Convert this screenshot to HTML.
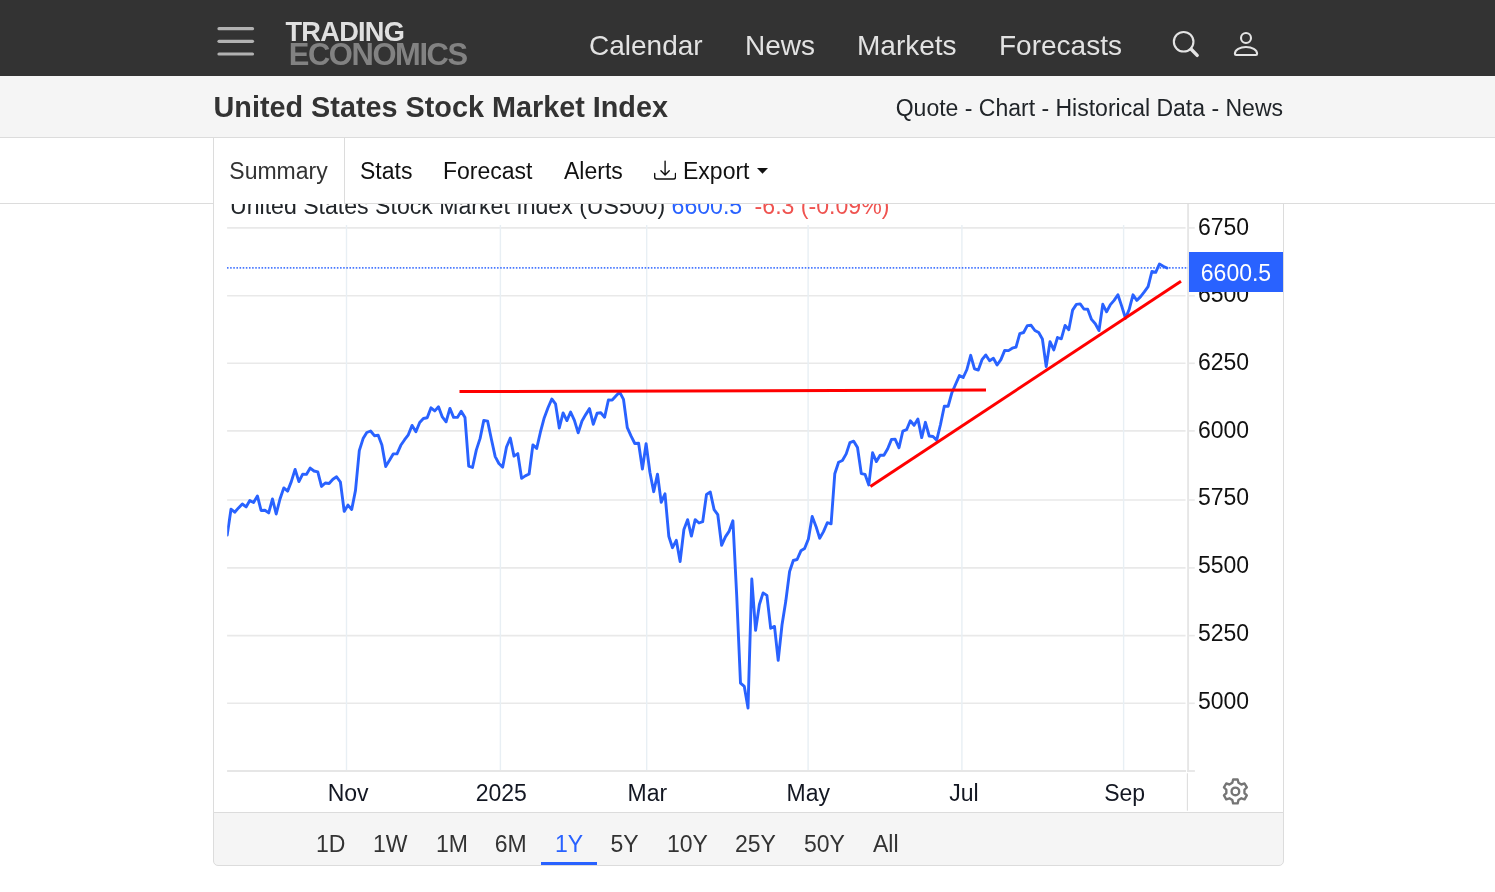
<!DOCTYPE html>
<html lang="en"><head><meta charset="utf-8"><title>United States Stock Market Index</title>
<style>
html,body{margin:0;padding:0}
body{width:1495px;height:892px;overflow:hidden;background:#fff;font-family:"Liberation Sans",Arial,sans-serif;position:relative;color:#212529}
.abs{position:absolute;white-space:nowrap}
#hdr{left:0;top:0;width:1495px;height:76.5px;background:#333}
#hdr .nav{color:#e2e2e2;font-size:28px;line-height:32px;top:30px}
#logo1{left:285.5px;top:17.4px;font-size:27.2px;line-height:30px;font-weight:bold;color:#e0e0e0;letter-spacing:-0.75px}
#logo2{left:288.7px;top:38.3px;font-size:30.9px;line-height:34px;font-weight:bold;color:#828282;letter-spacing:-1.38px}
#titlebar{left:0;top:76px;width:1495px;height:61px;background:#f5f5f5;border-bottom:1px solid #dcdcdc}
#title{left:213.5px;top:90.5px;font-size:28.8px;line-height:32px;font-weight:bold;color:#333}
#links{right:212px;top:94px;font-size:23px;line-height:28px;color:#212529}
#tabs{left:0;top:138px;width:1495px;height:65px;background:#fff;border-bottom:1px solid #dcdcdc}
#tabact{left:213px;top:138px;width:130px;height:66px;background:#fff;border-left:1px solid #dcdcdc;border-right:1px solid #dcdcdc}
.tab{top:157px;font-size:23px;line-height:28px;color:#111}
#chartbox{left:213px;top:204px;width:1069px;height:609px;border-left:1px solid #dcdcdc;border-right:1px solid #dcdcdc}
#tb{left:213px;top:812px;width:1069px;height:52px;background:#f5f5f5;border:1px solid #dcdcdc;border-radius:0 0 5px 5px}
.rng{top:830px;font-size:23px;line-height:28px;color:#333}
#sel{left:541px;top:862px;width:56px;height:3px;background:#2962ff}
svg text{font-family:"Liberation Sans",Arial,sans-serif}
</style></head><body>
<div class="abs" id="hdr">
 <svg class="abs" style="left:214px;top:24px" width="44" height="34" viewBox="0 0 44 34"><g stroke="#b2b2b2" stroke-width="3.2" stroke-linecap="round"><line x1="5" y1="4.7" x2="38.5" y2="4.7"/><line x1="5" y1="17.3" x2="38.5" y2="17.3"/><line x1="5" y1="30" x2="38.5" y2="30"/></g></svg>
 <div class="abs" id="logo1">TRADING</div>
 <div class="abs" id="logo2">ECONOMICS</div>
 <div class="abs nav" style="left:589px">Calendar</div>
 <div class="abs nav" style="left:745px">News</div>
 <div class="abs nav" style="left:857px">Markets</div>
 <div class="abs nav" style="left:999px">Forecasts</div>
 <svg class="abs" style="left:1160px;top:15px" width="120" height="60" viewBox="1160 15 120 60" fill="none" stroke="#e4e4e4" stroke-linecap="round" stroke-linejoin="round"><circle cx="1183.65" cy="41.75" r="9.8" stroke-width="2.1"/><line x1="1191.2" y1="49.2" x2="1197.2" y2="55.4" stroke-width="3.4"/><circle cx="1246" cy="38.05" r="5" stroke-width="2.1"/><path d="M1234.9 53.8 C1234.9 49.6 1240 47 1246 47 C1252 47 1257.1 49.6 1257.1 53.8 Q1257.1 55 1255.9 55 H1236.1 Q1234.9 55 1234.9 53.8 Z" stroke-width="2.1"/></svg>
</div>
<div class="abs" id="titlebar"></div>
<div class="abs" id="title">United States Stock Market Index</div>
<div class="abs" id="links">Quote - Chart - Historical Data - News</div>

<div class="abs" id="chartbox"></div>
<svg class="abs" style="left:0;top:0" width="1495" height="892" viewBox="0 0 1495 892">
 <defs><clipPath id="cp"><rect x="227.2" y="204" width="962" height="567"/></clipPath></defs>
 <text x="230" y="213.5" font-size="23.1" fill="#212529">United States Stock Market Index (US500) <tspan fill="#2962ff">6600.5</tspan><tspan fill="#ef5350" dx="6"> -6.3 (-0.09%)</tspan></text>
 <g stroke="#e9e9e9" stroke-width="1.6"><line x1="227.1" x2="1185.6" y1="703.3" y2="703.3"/><line x1="227.1" x2="1185.6" y1="635.6" y2="635.6"/><line x1="227.1" x2="1185.6" y1="567.9" y2="567.9"/><line x1="227.1" x2="1185.6" y1="500.0" y2="500.0"/><line x1="227.1" x2="1185.6" y1="430.9" y2="430.9"/><line x1="227.1" x2="1185.6" y1="363.3" y2="363.3"/><line x1="227.1" x2="1185.6" y1="295.8" y2="295.8"/><line x1="227.1" x2="1185.6" y1="227.9" y2="227.9"/><line x1="1189" x2="1194.8" y1="703.3" y2="703.3"/><line x1="1189" x2="1194.8" y1="635.6" y2="635.6"/><line x1="1189" x2="1194.8" y1="567.9" y2="567.9"/><line x1="1189" x2="1194.8" y1="500.0" y2="500.0"/><line x1="1189" x2="1194.8" y1="430.9" y2="430.9"/><line x1="1189" x2="1194.8" y1="363.3" y2="363.3"/><line x1="1189" x2="1194.8" y1="295.8" y2="295.8"/><line x1="1189" x2="1194.8" y1="227.9" y2="227.9"/></g>
 <g stroke="#e8eff4" stroke-width="1.4"><line x1="346.5" x2="346.5" y1="225" y2="770"/><line x1="500.4" x2="500.4" y1="225" y2="770"/><line x1="646.7" x2="646.7" y1="225" y2="770"/><line x1="808.1" x2="808.1" y1="225" y2="770"/><line x1="961.9" x2="961.9" y1="225" y2="770"/><line x1="1123.6" x2="1123.6" y1="225" y2="770"/></g>
 <line x1="227.1" x2="1186" y1="771" y2="771" stroke="#e6e6e6" stroke-width="1.8"/><line x1="1187.2" x2="1194.9" y1="771" y2="771" stroke="#e6e6e6" stroke-width="1.8"/>
 <line x1="1188.1" x2="1188.1" y1="204" y2="771.9" stroke="#e6e6e6" stroke-width="1.9"/>
 <line x1="1187.4" x2="1187.4" y1="773.2" y2="810.8" stroke="#dedede" stroke-width="1.1"/>
 <line x1="227" x2="1188" y1="267.9" y2="267.9" stroke="#2962ff" stroke-opacity="0.85" stroke-width="1.9" stroke-dasharray="1.55 1.59"/>
 <g font-size="23" fill="#111"><text x="1198" y="708.5">5000</text><text x="1198" y="640.8">5250</text><text x="1198" y="573.1">5500</text><text x="1198" y="505.4">5750</text><text x="1198" y="437.7">6000</text><text x="1198" y="370.0">6250</text><text x="1198" y="302.3">6500</text><text x="1198" y="234.6">6750</text></g>
 <g font-size="23" fill="#131722"><text x="348.1" y="801" text-anchor="middle">Nov</text><text x="501.3" y="801" text-anchor="middle">2025</text><text x="647.3" y="801" text-anchor="middle">Mar</text><text x="808.3" y="801" text-anchor="middle">May</text><text x="964" y="801" text-anchor="middle">Jul</text><text x="1124.6" y="801" text-anchor="middle">Sep</text></g>
 <polyline points="227.2,535.1 231.0,509.2 234.7,512.2 238.5,507.9 242.3,504.0 246.1,506.9 249.8,500.6 253.6,502.5 257.4,495.9 261.1,510.5 264.9,510.3 268.7,512.9 272.5,499.0 276.2,514.0 280.0,499.0 283.8,487.9 287.6,491.1 291.3,481.6 295.1,469.4 298.9,481.6 302.7,474.2 306.4,474.4 310.2,468.1 314.0,471.0 317.8,471.8 321.5,486.4 325.3,483.0 329.1,483.5 332.9,479.3 336.6,476.8 340.4,482.0 344.2,511.4 348.0,505.1 351.7,509.5 355.5,490.4 359.3,450.6 363.1,438.6 366.8,432.5 370.6,431.0 374.4,435.7 378.2,435.3 381.9,445.1 385.7,466.5 389.5,460.3 393.2,453.9 397.0,453.9 400.8,445.3 404.6,439.7 408.3,434.8 412.1,425.4 415.9,431.7 419.7,422.5 423.4,418.5 427.2,417.8 431.0,407.8 434.8,410.9 438.5,406.8 442.3,416.9 446.1,421.8 449.9,408.4 453.6,417.4 457.4,417.4 461.2,411.2 465.0,417.6 468.7,466.1 472.5,467.5 476.3,450.1 480.1,438.4 483.8,420.4 487.6,421.1 491.4,439.3 495.2,456.6 498.9,463.5 502.7,467.1 506.5,447.0 510.3,438.0 514.0,456.1 517.8,453.6 521.6,478.4 525.3,475.9 529.1,474.0 532.9,444.9 536.7,448.4 540.4,432.2 544.2,417.9 548.0,407.8 551.8,399.0 555.5,403.8 559.3,428.0 563.1,412.9 566.9,420.6 570.6,412.0 574.4,420.3 578.2,432.8 582.0,421.0 585.7,414.6 589.5,408.6 593.3,424.3 597.1,413.2 600.8,412.7 604.6,417.2 608.4,400.0 612.2,400.1 615.9,396.1 619.7,392.1 623.5,399.4 627.3,427.7 631.0,435.9 634.8,443.5 638.6,443.3 642.4,469.0 646.1,443.7 649.9,472.2 653.7,491.7 657.5,474.1 661.2,502.4 665.0,493.8 668.8,536.2 672.5,547.7 676.3,540.3 680.1,561.5 683.9,529.5 687.6,519.7 691.4,536.1 695.2,519.6 699.0,523.0 702.7,521.7 706.5,494.5 710.3,492.1 714.1,509.6 717.8,514.7 721.6,545.3 725.4,536.9 729.2,531.1 732.9,520.8 736.7,595.5 740.5,683.2 744.3,686.4 748.0,708.0 751.8,579.0 755.6,630.4 759.4,604.5 763.1,592.9 766.9,595.4 770.7,628.3 774.5,626.4 778.2,660.3 782.0,625.0 785.8,601.1 789.6,571.5 793.3,560.5 797.1,559.5 800.9,550.8 804.6,548.5 808.4,539.0 812.2,516.5 816.0,526.4 819.7,538.2 823.5,531.6 827.3,522.7 831.1,523.8 834.8,473.7 838.6,462.2 842.4,460.5 846.2,453.9 849.9,442.6 853.7,441.2 857.5,447.5 861.3,473.6 865.0,474.3 868.8,484.9 872.6,452.7 876.4,461.6 880.1,455.2 883.9,455.3 887.7,448.7 891.5,439.4 895.2,439.3 899.0,447.8 902.8,431.2 906.6,429.7 910.3,420.8 914.1,425.3 917.9,419.0 921.7,437.6 925.4,422.3 929.2,436.0 933.0,436.5 936.7,440.1 940.5,424.5 944.3,406.2 948.1,406.3 951.8,393.0 955.6,384.2 959.4,375.6 963.2,377.5 966.9,369.5 970.7,355.3 974.5,368.8 978.3,370.0 982.0,359.7 985.8,355.0 989.6,360.7 993.4,358.3 997.1,365.0 1000.9,359.6 1004.7,350.4 1008.5,350.6 1012.2,348.2 1016.0,347.1 1019.8,333.7 1023.6,332.5 1027.3,325.6 1031.1,325.3 1034.9,330.5 1038.7,332.6 1042.4,339.0 1046.2,366.6 1050.0,341.6 1053.8,349.9 1057.5,337.5 1061.3,338.8 1065.1,325.4 1068.8,329.7 1072.6,310.1 1076.4,304.4 1080.2,303.9 1083.9,309.0 1087.7,309.2 1091.5,319.4 1095.3,323.7 1099.0,330.6 1102.8,304.3 1106.6,311.8 1110.4,304.6 1114.1,300.4 1117.9,294.8 1121.7,306.1 1125.5,318.3 1129.2,309.4 1133.0,294.8 1136.8,300.4 1140.6,296.6 1144.3,291.9 1148.1,286.6 1151.9,271.5 1155.7,272.4 1159.4,264.0 1163.2,266.3 1167.0,268.0" fill="none" clip-path="url(#cp)" stroke="#2962ff" stroke-width="2.9" stroke-linejoin="round" stroke-linecap="round"/>
 <line x1="459.5" y1="391.6" x2="986" y2="390" stroke="#ff0000" stroke-width="3"/>
 <line x1="870.4" y1="486.4" x2="1181" y2="281.3" stroke="#ff0000" stroke-width="3"/>
 <rect x="1189" y="252" width="94" height="40" fill="#2962ff"/>
 <text x="1200.8" y="281" font-size="23" fill="#fff">6600.5</text>
 <g transform="translate(1235.4,791.4) scale(1.03)" fill="none" stroke="#757575" stroke-width="2.3"><circle r="3.7"/><path d="M-2.2 -11.6 L2.2 -11.6 L3 -8.4 L5.8 -6.7 L8.9 -7.7 L11.1 -3.9 L8.8 -1.6 L8.8 1.6 L11.1 3.9 L8.9 7.7 L5.8 6.7 L3 8.4 L2.2 11.6 L-2.2 11.6 L-3 8.4 L-5.8 6.7 L-8.9 7.7 L-11.1 3.9 L-8.8 1.6 L-8.8 -1.6 L-11.1 -3.9 L-8.9 -7.7 L-5.8 -6.7 L-3 -8.4 Z" stroke-linejoin="round"/></g>
</svg>

<div class="abs" id="tabs"></div>
<div class="abs" id="tabact"></div>
<div class="abs tab" style="left:229.3px;color:#333">Summary</div>
<div class="abs tab" style="left:360px">Stats</div>
<div class="abs tab" style="left:443px">Forecast</div>
<div class="abs tab" style="left:564px">Alerts</div>
<svg class="abs" style="left:654.3px;top:159.2px" width="22.2" height="22.2" viewBox="0 0 16 16" fill="#111"><path d="M.5 9.9a.5.5 0 0 1 .5.5v2.5a1 1 0 0 0 1 1h12a1 1 0 0 0 1-1v-2.5a.5.5 0 0 1 1 0v2.5a2 2 0 0 1-2 2H2a2 2 0 0 1-2-2v-2.5a.5.5 0 0 1 .5-.5z"/><path d="M7.646 11.854a.5.5 0 0 0 .708 0l3-3a.5.5 0 0 0-.708-.708L8.5 10.293V1.5a.5.5 0 0 0-1 0v8.793L5.354 8.146a.5.5 0 1 0-.708.708l3 3z"/></svg>
<div class="abs tab" style="left:683px">Export</div>
<svg class="abs" style="left:756.7px;top:167.5px" width="12" height="7" viewBox="0 0 12 7"><path d="M0 0 H11 L5.5 5.7 Z" fill="#111"/></svg>

<div class="abs" id="tb"></div>
<div class="abs rng" style="left:316px">1D</div>
<div class="abs rng" style="left:373px">1W</div>
<div class="abs rng" style="left:436px">1M</div>
<div class="abs rng" style="left:494.8px">6M</div>
<div class="abs rng" style="left:555px;color:#2962ff">1Y</div>
<div class="abs rng" style="left:610.5px">5Y</div>
<div class="abs rng" style="left:667px">10Y</div>
<div class="abs rng" style="left:735px">25Y</div>
<div class="abs rng" style="left:804px">50Y</div>
<div class="abs rng" style="left:873px">All</div>
<div class="abs" id="sel"></div>
</body></html>
